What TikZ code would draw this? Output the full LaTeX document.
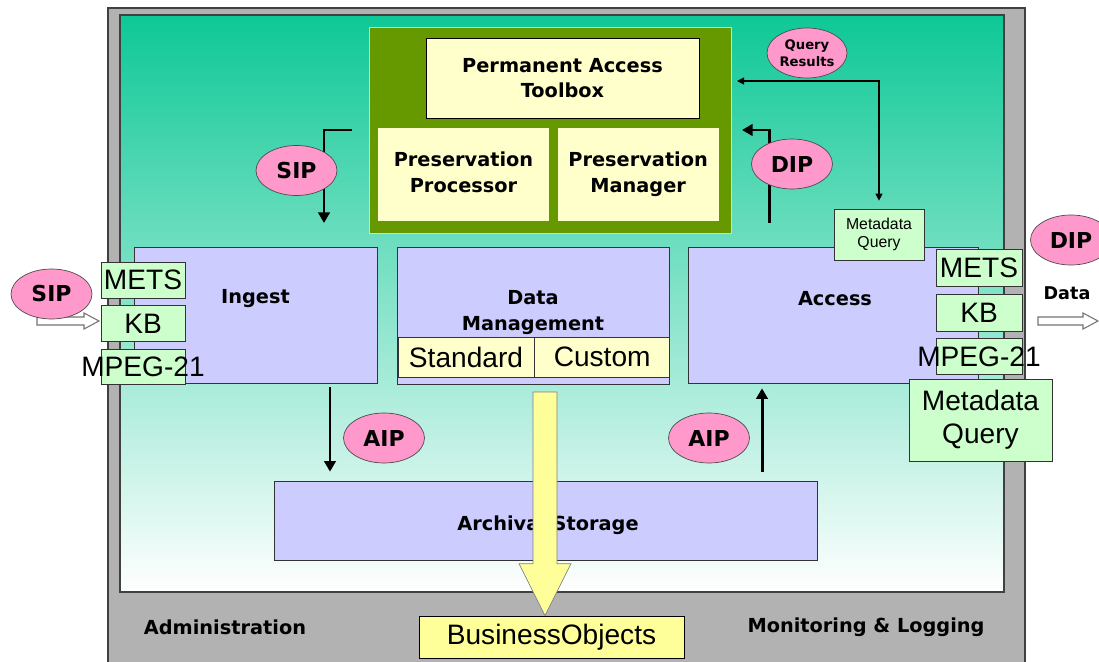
\documentclass[tikz,border=0pt]{standalone}
\usepackage{fontspec}
\setmainfont{Liberation Sans}
\newfontfamily\verdana{DejaVu Sans}
\usetikzlibrary{positioning,calc,shapes.geometric,arrows.meta}
\definecolor{framegray}{RGB}{178,178,178}
\definecolor{oaisteal}{RGB}{14,200,150}
\definecolor{oaismid}{RGB}{165,228,205}
\definecolor{presgreen}{RGB}{102,153,0}
\definecolor{creamy}{RGB}{255,255,204}
\definecolor{lavender}{RGB}{204,204,255}
\definecolor{palegreen}{RGB}{204,255,204}
\definecolor{pinky}{RGB}{255,153,204}
\definecolor{yellowbo}{RGB}{255,255,153}
\tikzset{
    oais/.style={>={Triangle[length=6pt,width=6.5pt]},x=0.02cm,y=-0.02cm},
    outerframe/.style={draw=black!75,line width=0.8pt},
    entity/.style={rectangle,draw=black!80,fill=lavender,inner sep=0pt},
    creambox/.style={rectangle,fill=creamy,inner sep=0pt,align=center,
                     font=\verdana\bfseries\fontsize{11}{15}\selectfont},
    packet/.style={ellipse,draw=black!70,fill=pinky,minimum width=1.62cm,
                   minimum height=1cm,inner sep=0pt,
                   font=\verdana\bfseries\fontsize{12.5}{14}\selectfont},
    fmt/.style={rectangle,draw=black!80,fill=palegreen,minimum width=1.68cm,
                minimum height=0.72cm,inner sep=0pt,font=\fontsize{16}{18}\selectfont},
    lbl/.style={font=\verdana\bfseries\fontsize{11}{14.7}\selectfont,align=center},
    flow/.style={->,line width=1.7pt},
    hollow/.style={draw=black!55,fill=white,line width=0.6pt},
    }
\begin{document}
\begin{tikzpicture}[oais]
    \useasboundingbox (0,0) rectangle (1099,662);
    \clip (0,0) rectangle (1099,662);
    % frames
    \draw[outerframe,fill=framegray] (108,8) rectangle (1025,690);
    \shade[top color=oaisteal,middle color=oaismid,bottom color=white] (120,15) rectangle (1004,592);
    \draw[outerframe] (120,15) rectangle (1004,592);
    \node[lbl] (admin) at (225,627) {Administration};
    \node[lbl] (monlog) at (866,627) {Monitoring \& Logging};

    % preservation block
    \node[rectangle,fill=presgreen,draw=presgreen!30,minimum width=7.24cm,minimum height=4.12cm] (pres) at (550,130) {};
    \node[creambox,draw=black,minimum width=5.46cm,minimum height=1.6cm,
          font=\verdana\bfseries\fontsize{11}{14}\selectfont] (pat) at (562.5,78) {Permanent Access\\Toolbox};
    \node[creambox,minimum width=3.42cm,minimum height=1.86cm] (pproc) at (463.5,174.5) {Preservation\\Processor\vphantom{g}};
    \node[creambox,minimum width=3.22cm,minimum height=1.86cm,right=0.16cm of pproc] (pman) {Preservation\\Manager};

    % functional entities
    \node[entity,minimum width=4.86cm,minimum height=2.72cm] (ingest) at (255.5,315) {};
    \node[entity,minimum width=5.44cm,minimum height=2.74cm] (dm) at (533,315.5) {};
    \node[entity,minimum width=5.8cm,minimum height=2.72cm] (access) at (833,315) {};
    \node[entity,minimum width=10.86cm,minimum height=1.58cm] (archival) at (545.5,520.5) {};
    \node[lbl] (ingestlbl) at ($(ingest.north)+(0,52)$) {Ingest};
    \node[lbl] (dmlbl) at ($(dm.north)+(0,66)$) {Data\\Management};
    \node[lbl] (accesslbl) at ($(access.north)+(2,52)$) {Access};
    \node[lbl] (archivallbl) at (548,525) {Archival Storage};
    \node[creambox,draw=black!80,minimum width=2.72cm,minimum height=0.8cm,
          font=\fontsize{16}{18}\selectfont] (std) at (466,357) {Standard};
    \node[creambox,draw=black!80,minimum width=2.7cm,minimum height=0.8cm,
          font=\fontsize{16}{18}\selectfont,right=0cm of std] (cust) {Custom};

    % business objects
    \node[rectangle,draw=black,fill=yellowbo,minimum width=5.3cm,minimum height=0.84cm,
          font=\fontsize{16}{18}\selectfont] (bo) at (551.5,637) {BusinessObjects};
    \coordinate (ytop) at (545,392);
    \coordinate (ytip) at (bo.north -| ytop);
    \filldraw[fill=yellowbo,draw=black!50] ($(ytop)+(-12,0)$) -- ($(ytop)+(12,0)$)
        -- ($(ytip)+(12,-52)$) -- ($(ytip)+(26,-52)$) -- (ytip)
        -- ($(ytip)+(-26,-52)$) -- ($(ytip)+(-12,-52)$) -- cycle;

    % flows
    \coordinate (sipin) at (352,130);
    \coordinate (sipdown) at (324,223);
    \coordinate (dipup) at (769,223);
    \coordinate (dipout) at (742,130);
    \coordinate (qres) at (737,81);
    \coordinate (aipl) at (330,0);
    \coordinate (aipr) at (762,0);
    \node[rectangle,draw=black!80,fill=palegreen,minimum width=1.8cm,minimum height=1.02cm,
          align=center,inner sep=0pt,font=\fontsize{9}{10}\selectfont] (mqs) at (879,234.5) {Metadata\\Query};
    \draw[flow] (sipin) -| (sipdown);
    \draw[flow] (dipup) |- (dipout);
    \draw[<->,>={Triangle[length=4pt,width=4pt]},line width=0.6pt,shorten >=0.16cm] (qres) -| (mqs.north);
    \draw[flow,shorten <=0.08cm,shorten >=0.18cm] (ingest.south -| aipl) -- (archival.north -| aipl);
    \draw[flow,shorten <=0.18cm,shorten >=0.1cm] (archival.north -| aipr) -- (access.south -| aipr);

    % information packages
    \node[packet] (sipmid) at (296.5,170.5) {SIP};
    \node[packet] (dipmid) at (792,164) {DIP};
    \node[packet,minimum width=1.6cm,align=center,
          font=\verdana\bfseries\fontsize{7.5}{9.5}\selectfont] (qresults) at (807,53) {Query\\Results};
    \node[packet] (aipin) at (384,438) {AIP};
    \node[packet] (aipout) at (709,438) {AIP};

    % incoming side
    \coordinate (sipsrc) at (37,321);
    \coordinate (siptip) at (99,321);
    \filldraw[hollow] ($(sipsrc)+(0,-4)$) -- ($(siptip)+(-15,-4)$) -- ($(siptip)+(-15,-8)$) -- (siptip)
        -- ($(siptip)+(-15,8)$) -- ($(siptip)+(-15,4)$) -- ($(sipsrc)+(0,4)$) -- cycle;
    \node[packet] (sipin0) at (51.5,294) {SIP};
    \node[fmt] (mets1) at (143,280) {METS};
    \node[fmt,below=0.14cm of mets1] (kb1) {KB};
    \node[fmt,below=0.14cm of kb1,minimum height=0.7cm,
          label={[font=\fontsize{16}{18}\selectfont]center:MPEG-21}] (mpeg1) {};

    % outgoing side
    \node[fmt,minimum width=1.72cm,minimum height=0.74cm] (mets2) at (979,267.5) {METS};
    \node[fmt,minimum width=1.72cm,minimum height=0.74cm,below=0.16cm of mets2] (kb2) {KB};
    \node[fmt,minimum width=1.72cm,minimum height=0.72cm,below=0.12cm of kb2,
          label={[font=\fontsize{16}{18}\selectfont]center:MPEG-21}] (mpeg2) {};
    \node[fmt,minimum width=2.86cm,minimum height=1.64cm,align=center,
          font=\fontsize{16}{19}\selectfont] (mqb) at (980.5,420) {Metadata\\Query};
    \node[packet] (dipout0) at (1071,240) {DIP};
    \node[lbl,font=\verdana\bfseries\fontsize{10}{12}\selectfont] (datalbl) at (1067,293) {Data};
    \coordinate (dataout) at (1038,321);
    \coordinate (datatip) at (1098,321);
    \filldraw[hollow] ($(dataout)+(0,-4)$) -- ($(datatip)+(-15,-4)$) -- ($(datatip)+(-15,-8)$) -- (datatip)
        -- ($(datatip)+(-15,8)$) -- ($(datatip)+(-15,4)$) -- ($(dataout)+(0,4)$) -- cycle;
\end{tikzpicture}
\end{document}
